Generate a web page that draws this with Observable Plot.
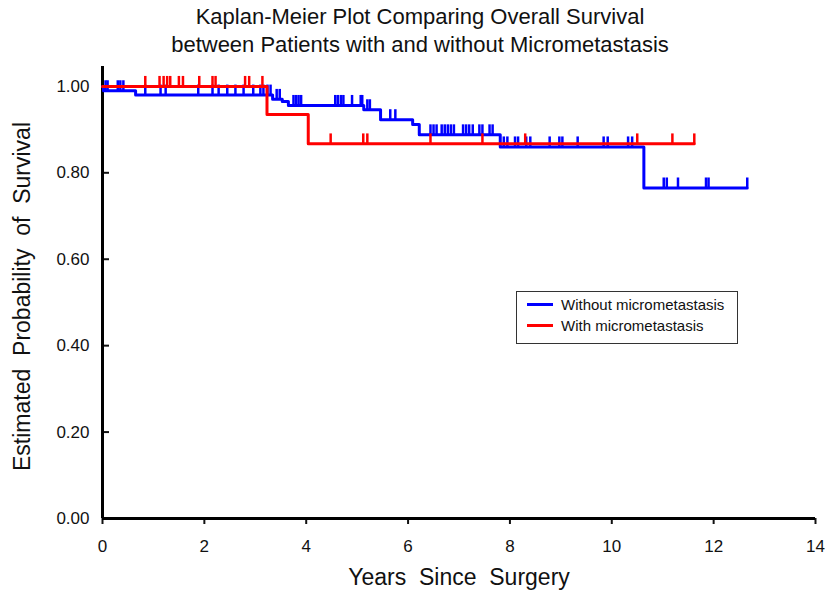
<!DOCTYPE html>
<html><head><meta charset="utf-8">
<script src="https://cdn.jsdelivr.net/npm/d3@7"></script>
<script src="https://cdn.jsdelivr.net/npm/@observablehq/plot@0.6"></script>
<style>
body{margin:0;background:#fff;font-family:"Liberation Sans",Arial,sans-serif;}
#wrap{position:relative;width:831px;height:600px;overflow:hidden;}
#title{position:absolute;left:0;top:3px;width:840px;text-align:center;font-size:22px;line-height:28px;color:#111;}
#chart{position:absolute;left:0;top:56px;}
#legend{position:absolute;left:516px;top:291px;width:222px;height:53px;border:1.5px solid #333;box-sizing:border-box;font-size:15px;color:#111;padding-top:2px;}
#legend .row{height:21px;line-height:21px;white-space:nowrap;}
#legend .sw{display:inline-block;width:26px;height:3px;margin:0 8px 4px 10px;vertical-align:middle;}
</style>
</head><body>
<div id="wrap">
  <div id="title">Kaplan-Meier Plot Comparing Overall Survival<br>between Patients with and without Micrometastasis</div>
  <div id="chart"></div>
  <div id="legend"></div>
</div>
<script>
// Series names and colours
const seriesNames = ["Without micrometastasis", "With micrometastasis"];
const seriesColors = ["#0000ff", "#ff0000"];

// Without micrometastasis: step times (years) and survival estimates (last = end of follow-up)
const blueTimes = [0, 0.02, 0.65, 3.34, 3.53, 3.65, 5.13, 5.46, 6.09, 6.22, 7.81, 10.63, 12.66];
const blueSurv  = [1.0, 0.99, 0.98, 0.97, 0.965, 0.956, 0.946, 0.923, 0.912, 0.888, 0.86, 0.765, 0.765];
// Without micrometastasis: censoring times
const blueCensor = [0.06, 0.1, 0.3, 0.35, 0.41, 0.84, 1.14, 1.24, 1.88, 2.16, 2.28, 2.45, 2.61, 2.77, 2.96,
  3.1, 3.16, 3.24, 3.3, 3.42, 3.48, 3.75, 3.8, 3.85, 3.9, 4.57, 4.62, 4.68, 4.73, 4.9, 5.07, 5.1, 5.2, 5.25,
  5.65, 5.75, 6.44, 6.5, 6.56, 6.66, 6.72, 6.78, 6.84, 6.9, 7.08, 7.14, 7.2, 7.27, 7.4, 7.46, 7.6, 7.66,
  7.88, 7.95, 8.1, 8.16, 8.32, 8.4, 8.78, 8.97, 9.03, 9.33, 9.84, 9.92, 10.32, 10.4, 11.02, 11.08, 11.3,
  11.85, 11.9, 12.66];

// With micrometastasis
const redTimes = [0, 3.23, 4.04, 11.62];
const redSurv  = [1.0, 0.935, 0.867, 0.867];
const redCensor = [0.84, 1.12, 1.2, 1.27, 1.33, 1.5, 1.58, 1.9, 2.16, 2.22, 2.8, 2.88, 3.14, 4.48, 5.12,
  5.2, 6.44, 7.46, 8.3, 10.5, 11.19, 11.62];

// Axis ticks
const xTicks = [0, 2, 4, 6, 8, 10, 12, 14];
const yTicks = [0, 0.2, 0.4, 0.6, 0.8, 1.0];

const xLabel = "Years\u00a0\u00a0Since\u00a0\u00a0Surgery";
const yLabel = "Estimated\u00a0\u00a0Probability\u00a0\u00a0of\u00a0\u00a0Survival";

const curve = (times, surv) => times.map((t, i) => ({t, s: surv[i]}));
const survAt = (times, surv, t) => { let s = surv[0]; for (let i = 0; i < times.length; i++) if (times[i] <= t) s = surv[i]; return s; };
const censors = (cens, times, surv) => cens.map(t => ({t, s: survAt(times, surv, t)}));

const blueCurve = curve(blueTimes, blueSurv);
const redCurve = curve(redTimes, redSurv);
const blueC = censors(blueCensor, blueTimes, blueSurv);
const redC = censors(redCensor, redTimes, redSurv);
const tickLen = 0.023;

const chart = Plot.plot({
  width: 831, height: 544,
  marginLeft: 102, marginRight: 16, marginTop: 10, marginBottom: 82,
  x: {domain: [0, 14]},
  y: {domain: [0, 1.046]},
  style: {fontFamily: "Liberation Sans, Arial, sans-serif", fontSize: "17px", color: "#111", background: "white", overflow: "visible"},
  marks: [
    Plot.axisX({ticks: xTicks, tickSize: 6, tickPadding: 15, strokeWidth: 2, tickFormat: d => String(d), label: null}),
    Plot.axisY({ticks: yTicks, tickSize: -7, strokeWidth: 2, fill: "none", label: null}),
    Plot.axisY({ticks: yTicks, tickSize: 0, tickPadding: 13, tickFormat: d3.format(".2f"), label: null}),
    Plot.ruleX([0], {strokeWidth: 3, stroke: "black"}),
    Plot.ruleY([0], {strokeWidth: 3, stroke: "black"}),
    Plot.line(blueCurve, {x: "t", y: "s", curve: "step-after", stroke: seriesColors[0], strokeWidth: 3}),
    Plot.ruleX(blueC, {x: "t", y1: "s", y2: d => d.s + tickLen, stroke: seriesColors[0], strokeWidth: 2.5}),
    Plot.line(redCurve, {x: "t", y: "s", curve: "step-after", stroke: seriesColors[1], strokeWidth: 3}),
    Plot.ruleX(redC, {x: "t", y1: "s", y2: d => d.s + tickLen, stroke: seriesColors[1], strokeWidth: 2.5}),
    Plot.text([xLabel], {text: d => d, frameAnchor: "bottom", textAnchor: "middle", dy: 66, fontSize: 23, fill: "#111"}),
    Plot.text([yLabel], {text: d => d, frameAnchor: "left", textAnchor: "middle", dx: -80, dy: 4, rotate: -90, fontSize: 23, fill: "#111"})
  ]
});
document.getElementById("chart").appendChild(chart);

const legend = document.getElementById("legend");
seriesNames.forEach((name, i) => {
  const row = document.createElement("div");
  row.className = "row";
  const sw = document.createElement("span");
  sw.className = "sw";
  sw.style.background = seriesColors[i];
  row.appendChild(sw);
  row.appendChild(document.createTextNode(name));
  legend.appendChild(row);
});
</script>
</body></html>
